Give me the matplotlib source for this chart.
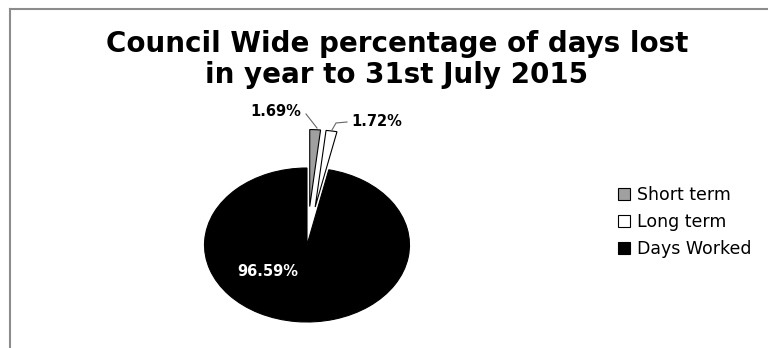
import matplotlib.pyplot as plt
from matplotlib.lines import Line2D

# data
labels = ["Short term", "Long term", "Days Worked"]
values = [1.69, 1.72, 96.59]
colors = ["#a0a0a0", "#ffffff", "#000000"]
explode = [0.5, 0.5, 0.0]

W, H = 768, 348
plt.rcParams['font.family'] = ['DejaVu Sans']
fig = plt.figure(figsize=(W / 100, H / 100), dpi=100)

# chart frame (top and left edges visible)
fig.add_artist(Line2D([10 / W, 1.0], [1 - 9 / H, 1 - 9 / H], color="#8c8c8c", lw=1.5))
fig.add_artist(Line2D([10 / W, 10 / W], [0, 1 - 9 / H], color="#8c8c8c", lw=1.5))

# pie is stretched horizontally in the reference, so use a non-equal aspect
cx, cy = 307, 245
rx, ry = 102.5, 77
x0, x1 = -2.0, 2.0
y0, y1 = -1.3, 1.8
left = (cx + x0 * rx) / W
width = (x1 - x0) * rx / W
bottom = (H - (cy - y0 * ry)) / H
height = (y1 - y0) * ry / H
ax = fig.add_axes([left, bottom, width, height])

wedges, _ = ax.pie(values, colors=colors, explode=explode, startangle=90,
                   counterclock=False,
                   wedgeprops=dict(edgecolor="black", linewidth=0.8))
ax.set_aspect("auto")
ax.set_xlim(x0, x1)
ax.set_ylim(y0, y1)
ax.axis("off")

def px(x, y):
    return ((x - cx) / rx, (cy - y) / ry)

# data labels with leader lines
ax.text(*px(276, 111), f"{values[0]:.2f}%", ha="center", va="center",
        fontsize=10.5, fontweight="bold")
ax.plot(*zip(px(306, 114), px(317, 128)), color="#666666", lw=0.8)
ax.text(*px(377, 121), f"{values[1]:.2f}%", ha="center", va="center",
        fontsize=10.5, fontweight="bold")
ax.plot(*zip(px(347, 122), px(336, 123), px(332, 130)), color="#666666", lw=0.8)
ax.text(*px(268, 271), f"{values[2]:.2f}%", color="white", ha="center",
        va="center", fontsize=10.5, fontweight="bold")

# title
fig.text(397 / W, 1 - 44 / H, "Council Wide percentage of days lost",
         ha="center", va="center", fontsize=20, fontweight="bold")
fig.text(397 / W, 1 - 75 / H, "in year to 31st July 2015",
         ha="center", va="center", fontsize=20, fontweight="bold")

fig.legend(wedges, labels, loc="center left", bbox_to_anchor=(602 / W, 1 - 222 / H),
           frameon=False, fontsize=12.5, handlelength=0.7, handleheight=0.7,
           handletextpad=0.4, labelspacing=0.5)

fig.savefig("out.png", dpi=100)
